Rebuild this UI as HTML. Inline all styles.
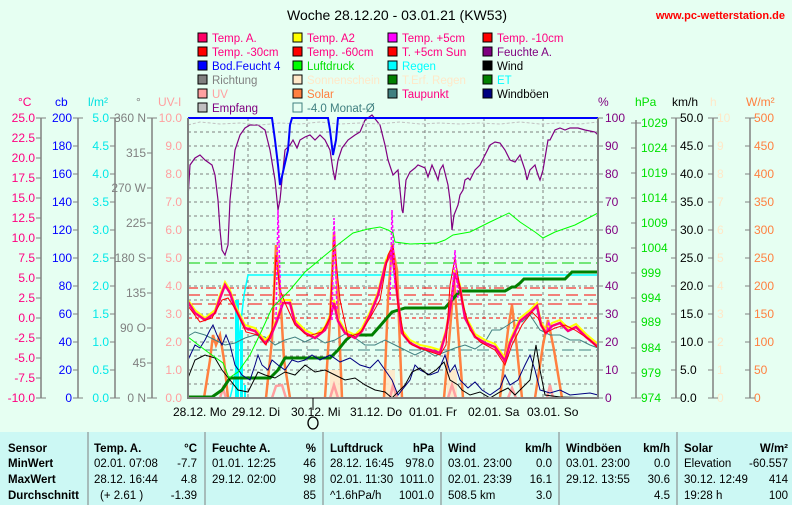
<!DOCTYPE html>
<html><head><meta charset="utf-8"><style>
body{margin:0;background:#e6fff2;}
svg{display:block;font-family:"Liberation Sans",sans-serif;}
</style></head><body>
<svg width="792" height="505" viewBox="0 0 792 505" xmlns="http://www.w3.org/2000/svg">
<rect width="792" height="505" fill="#e6fff2"/>
<text x="397" y="20" font-size="14" text-anchor="middle" fill="#000">Woche 28.12.20 - 03.01.21 (KW53)</text>
<text x="785" y="19" font-size="11" font-weight="bold" text-anchor="end" fill="#ff0000">www.pc-wetterstation.de</text>
<!-- legend -->
<g font-size="11.5">
<g transform="translate(198,33)">
<rect x="0" y="0" width="9" height="9" fill="#ff0066" stroke="#000"/><text x="14" y="9" fill="#ff0080">Temp. A.</text>
<rect x="0" y="14" width="9" height="9" fill="#ff0000" stroke="#000"/><text x="14" y="23" fill="#ff0080">Temp. -30cm</text>
<rect x="0" y="28" width="9" height="9" fill="#0000ff" stroke="#000"/><text x="14" y="37" fill="#0000ff">Bod.Feucht 4</text>
<rect x="0" y="42" width="9" height="9" fill="#808080" stroke="#000"/><text x="14" y="51" fill="#808080">Richtung</text>
<rect x="0" y="56" width="9" height="9" fill="#ffa0a0" stroke="#000"/><text x="14" y="65" fill="#ffa0a0">UV</text>
<rect x="0" y="70" width="9" height="9" fill="#c0c0c0" stroke="#000"/><text x="14" y="79" fill="#800080">Empfang</text>
</g>
<g transform="translate(293,33)">
<rect x="0" y="0" width="9" height="9" fill="#ffff00" stroke="#000"/><text x="14" y="9" fill="#ff0080">Temp. A2</text>
<rect x="0" y="14" width="9" height="9" fill="#ff0000" stroke="#000"/><text x="14" y="23" fill="#ff0080">Temp. -60cm</text>
<rect x="0" y="28" width="9" height="9" fill="#00ff00" stroke="#000"/><text x="14" y="37" fill="#00e000">Luftdruck</text>
<rect x="0" y="42" width="9" height="9" fill="#ffe8c8" stroke="#000"/><text x="14" y="51" fill="#ffe8c8">Sonnenschein</text>
<rect x="0" y="56" width="9" height="9" fill="#ff8040" stroke="#000"/><text x="14" y="65" fill="#ff8040">Solar</text>
<rect x="0" y="70" width="9" height="9" fill="none" stroke="#408080"/><text x="14" y="79" fill="#408080">-4.0 Monat-Ø</text>
</g>
<g transform="translate(388,33)">
<rect x="0" y="0" width="9" height="9" fill="#ff00ff" stroke="#000"/><text x="14" y="9" fill="#ff0080">Temp. +5cm</text>
<rect x="0" y="14" width="9" height="9" fill="#ff0000" stroke="#000"/><text x="14" y="23" fill="#ff0080">T. +5cm Sun</text>
<rect x="0" y="28" width="9" height="9" fill="#00ffff" stroke="#000"/><text x="14" y="37" fill="#00ffff">Regen</text>
<rect x="0" y="42" width="9" height="9" fill="#008000" stroke="#000"/><text x="14" y="51" fill="#ffe8c8">T.Erf. Regen</text>
<rect x="0" y="56" width="9" height="9" fill="#408080" stroke="#000"/><text x="14" y="65" fill="#ff0080">Taupunkt</text>
</g>
<g transform="translate(483,33)">
<rect x="0" y="0" width="9" height="9" fill="#ff0000" stroke="#000"/><text x="14" y="9" fill="#ff0080">Temp. -10cm</text>
<rect x="0" y="14" width="9" height="9" fill="#800080" stroke="#000"/><text x="14" y="23" fill="#800080">Feuchte A.</text>
<rect x="0" y="28" width="9" height="9" fill="#000000" stroke="#000"/><text x="14" y="37" fill="#000">Wind</text>
<rect x="0" y="42" width="9" height="9" fill="#008000" stroke="#000"/><text x="14" y="51" fill="#00ffff">ET</text>
<rect x="0" y="56" width="9" height="9" fill="#000080" stroke="#000"/><text x="14" y="65" fill="#000">Windböen</text>
</g>
</g>
<!-- axis headers -->
<g font-size="12">
<text x="18" y="106" fill="#ff0080">°C</text>
<text x="55" y="106" fill="#0000ff">cb</text>
<text x="88" y="106" fill="#00e0e0">l/m²</text>
<text x="136" y="106" fill="#808080">°</text>
<text x="158" y="106" fill="#ffa0a0">UV-I</text>
<text x="598" y="106" fill="#800080">%</text>
<text x="635" y="106" fill="#00e000">hPa</text>
<text x="672" y="106" fill="#000">km/h</text>
<text x="710" y="106" fill="#ffe8c8">h</text>
<text x="746" y="106" fill="#ff8040">W/m²</text>
</g>
<!-- axes lines -->
<g stroke="#808080" stroke-width="1.5">
<line x1="41" y1="118" x2="41" y2="398"/><line x1="78" y1="118" x2="78" y2="398"/><line x1="115" y1="118" x2="115" y2="398"/><line x1="152" y1="118" x2="152" y2="398"/>
<line x1="636" y1="120" x2="636" y2="398"/><line x1="676" y1="118" x2="676" y2="398"/><line x1="713" y1="118" x2="713" y2="398"/><line x1="750" y1="118" x2="750" y2="398"/>
</g>
<g font-size="12" text-anchor="end">
<g fill="#ff0080">
<text x="35" y="122">25.0</text><text x="35" y="142">22.5</text><text x="35" y="162">20.0</text><text x="35" y="182">17.5</text><text x="35" y="202">15.0</text><text x="35" y="222">12.5</text><text x="35" y="242">10.0</text><text x="35" y="262">7.5</text><text x="35" y="282">5.0</text><text x="35" y="302">2.5</text><text x="35" y="322">0.0</text><text x="35" y="342">-2.5</text><text x="35" y="362">-5.0</text><text x="35" y="382">-7.5</text><text x="35" y="402">-10.0</text>
</g>
<g fill="#0000ff">
<text x="72" y="122">200</text><text x="72" y="150">180</text><text x="72" y="178">160</text><text x="72" y="206">140</text><text x="72" y="234">120</text><text x="72" y="262">100</text><text x="72" y="290">80</text><text x="72" y="318">60</text><text x="72" y="346">40</text><text x="72" y="374">20</text><text x="72" y="402">0</text>
</g>
<g fill="#00e8e8">
<text x="109" y="122">5.0</text><text x="109" y="150">4.5</text><text x="109" y="178">4.0</text><text x="109" y="206">3.5</text><text x="109" y="234">3.0</text><text x="109" y="262">2.5</text><text x="109" y="290">2.0</text><text x="109" y="318">1.5</text><text x="109" y="346">1.0</text><text x="109" y="374">0.5</text><text x="109" y="402">0.0</text>
</g>
<g fill="#808080">
<text x="146" y="122">360 N</text><text x="146" y="157">315</text><text x="146" y="192">270 W</text><text x="146" y="227">225</text><text x="146" y="262">180 S</text><text x="146" y="297">135</text><text x="146" y="332">90  O</text><text x="146" y="367">45</text><text x="146" y="402">0   N</text>
</g>
<g fill="#ffa0a0">
<text x="182" y="122">10.0</text><text x="182" y="150">9.0</text><text x="182" y="178">8.0</text><text x="182" y="206">7.0</text><text x="182" y="234">6.0</text><text x="182" y="262">5.0</text><text x="182" y="290">4.0</text><text x="182" y="318">3.0</text><text x="182" y="346">2.0</text><text x="182" y="374">1.0</text><text x="182" y="402">0.0</text>
</g>
</g>
<g font-size="12">
<g fill="#800080">
<text x="605" y="122">100</text><text x="605" y="150">90</text><text x="605" y="178">80</text><text x="605" y="206">70</text><text x="605" y="234">60</text><text x="605" y="262">50</text><text x="605" y="290">40</text><text x="605" y="318">30</text><text x="605" y="346">20</text><text x="605" y="374">10</text><text x="605" y="402">0</text>
</g>
<g fill="#00e000">
<text x="641" y="127">1029</text><text x="641" y="152">1024</text><text x="641" y="177">1019</text><text x="641" y="202">1014</text><text x="641" y="227">1009</text><text x="641" y="252">1004</text><text x="641" y="277">999</text><text x="641" y="302">994</text><text x="641" y="326">989</text><text x="641" y="352">984</text><text x="641" y="377">979</text><text x="641" y="402">974</text>
</g>
<g fill="#000">
<text x="680" y="122">50.0</text><text x="680" y="150">45.0</text><text x="680" y="178">40.0</text><text x="680" y="206">35.0</text><text x="680" y="234">30.0</text><text x="680" y="262">25.0</text><text x="680" y="290">20.0</text><text x="680" y="318">15.0</text><text x="680" y="346">10.0</text><text x="680" y="374">5.0</text><text x="680" y="402">0.0</text>
</g>
<g fill="#ffe8c8">
<text x="717" y="122">10</text><text x="717" y="150">9</text><text x="717" y="178">8</text><text x="717" y="206">7</text><text x="717" y="234">6</text><text x="717" y="262">5</text><text x="717" y="290">4</text><text x="717" y="318">3</text><text x="717" y="346">2</text><text x="717" y="374">1</text><text x="717" y="402">0</text>
</g>
<g fill="#ff8040">
<text x="754" y="122">500</text><text x="754" y="150">450</text><text x="754" y="178">400</text><text x="754" y="206">350</text><text x="754" y="234">300</text><text x="754" y="262">250</text><text x="754" y="290">200</text><text x="754" y="318">150</text><text x="754" y="346">100</text><text x="754" y="374">50</text><text x="754" y="402">0</text>
</g>
</g>
<!-- ticks -->
<g stroke="#808080">
<path d="M36 118h10M36 138h5M36 158h5M36 178h5M36 198h5M36 218h5M36 238h5M36 258h5M36 278h5M36 298h5M36 318h5M36 338h5M36 358h5M36 378h5M36 398h10"/>
<path d="M73 118h10M73 146h5M73 174h5M73 202h5M73 230h5M73 258h5M73 286h5M73 314h5M73 342h5M73 370h5M73 398h10"/>
<path d="M110 118h10M110 146h5M110 174h5M110 202h5M110 230h5M110 258h5M110 286h5M110 314h5M110 342h5M110 370h5M110 398h10"/>
<path d="M147 118h10M147 153h5M147 188h5M147 223h5M147 258h5M147 293h5M147 328h5M147 363h5M147 398h10"/>
<path d="M598 118h5M598 146h5M598 174h5M598 202h5M598 230h5M598 258h5M598 286h5M598 314h5M598 342h5M598 370h5M598 398h5"/>
<path d="M631 123h10M631 148h5M631 173h5M631 198h5M631 223h5M631 248h5M631 273h5M631 298h5M631 322h5M631 348h5M631 373h5M631 398h10"/>
<path d="M671 118h10M671 146h5M671 174h5M671 202h5M671 230h5M671 258h5M671 286h5M671 314h5M671 342h5M671 370h5M671 398h10"/>
<path d="M708 118h10M708 146h5M708 174h5M708 202h5M708 230h5M708 258h5M708 286h5M708 314h5M708 342h5M708 370h5M708 398h10"/>
<path d="M745 118h10M745 146h5M745 174h5M745 202h5M745 230h5M745 258h5M745 286h5M745 314h5M745 342h5M745 370h5M745 398h10"/>
</g>
<!-- plot area -->
<g stroke="#808080" stroke-dasharray="3,3" stroke-width="1">
<path d="M188 132H598M188 146H598M188 160H598M188 174H598M188 188H598M188 202H598M188 216H598M188 230H598M188 244H598M188 258H598M188 272H598M188 286H598M188 300H598M188 314H598M188 328H598M188 342H598M188 356H598M188 370H598M188 384H598"/>
<path d="M248 118V398M307 118V398M366 118V398M425 118V398M484 118V398M543 118V398"/>
</g>
<!-- horizontal avg lines -->
<path d="M188 263H598" stroke="#00cc00" stroke-dasharray="12,5"/>
<path d="M188 288H598" stroke="#ff0000" stroke-dasharray="10,3,2,3"/>
<path d="M188 295H598" stroke="#ff0000" stroke-dasharray="12,6"/>
<path d="M188 304H598" stroke="#ff0000" stroke-dasharray="14,6"/>
<path d="M188 318H598" stroke="#ff0000" stroke-dasharray="4,3"/>
<path d="M188 350H598" stroke="#408080" stroke-dasharray="12,5"/>
<!-- rain -->
<path d="M188 398H230L232 390L236 370L240 330L244 295L248 275H598" fill="none" stroke="#00ffff" stroke-width="1.5"/>
<g fill="#00ffff"><rect x="235" y="300" width="4" height="98"/><rect x="240" y="330" width="3" height="68"/><rect x="244" y="385" width="2" height="13"/></g>
<!-- sunshine -->
<g fill="#ffe8c8" opacity="0.9"><rect x="330" y="370" width="12" height="28"/><rect x="383" y="370" width="12" height="28"/><rect x="447" y="370" width="10" height="28"/></g>
<!-- solar -->
<g fill="none" stroke="#ff8040" stroke-width="2.5">
<path d="M204 398L210 360L213 335L216 345L220 335L224 360L228 398"/>
<path d="M266 398L272 340L276 245L280 290L284 360L290 398"/>
<path d="M325 398L330 320L334 232L338 300L342 398"/>
<path d="M384 398L388 300L392 245L397 270L402 398"/>
<path d="M444 398L450 330L454 280L458 330L463 398"/>
<path d="M500 398L508 330L512 305L516 340L522 398"/>
<path d="M535 398L543 345L548 320L554 350L562 398"/>
</g>
<!-- UV -->
<g fill="none" stroke="#ffa0a0" stroke-width="2.5">
<path d="M220 398L223 388L226 398M272 398L276 386L282 385L286 398M330 398L334 385L338 398M390 398L393 385L397 398M448 398L452 385L456 398M508 398L512 388L516 398M547 398L550 385L553 398"/>
</g>
<!-- ET -->
<path d="M188 397H212L222 390L230 378H270L278 370L285 358H330L338 350L346 340L352 335H372L380 326L392 312L405 308H445L452 300L460 291H505L512 287H515L520 283L524 279H565L572 272H598" fill="none" stroke="#008000" stroke-width="3"/>
<!-- dewpoint -->
<path d="M188 336L195 332L205 335L215 340L225 345L235 343L245 338L255 335L265 337L275 345L285 340L295 337L305 342L315 337L325 343L335 340L345 334L355 338L365 345L375 345L385 340L395 345L405 350L415 355L425 350L435 356L445 352L455 348L465 345L475 349L485 342L492 330L500 330L508 325L515 320L522 322L530 315L540 330L550 335L560 335L570 340L580 340L590 345L598 348" fill="none" stroke="#408080" stroke-width="1"/>
<!-- windgusts -->
<path d="M188 360L195 345L200 348L205 340L210 330L213 325L217 335L222 345L226 335L230 345L235 365L242 375L250 380L255 365L258 355L262 365L268 370L272 360L278 365L285 370L292 360L298 362L305 360L312 355L320 360L330 355L340 362L350 358L360 365L370 368L378 360L385 370L392 380L398 395L410 380L415 365L420 370L430 375L438 372L445 355L450 372L455 365L460 380L468 388L475 382L482 390L490 395L500 388L505 375L510 385L518 380L525 365L530 355L535 370L540 390L550 393L560 390L570 395L580 394L590 393L598 395" fill="none" stroke="#000080" stroke-width="1"/>
<!-- wind -->
<path d="M188 378L195 360L205 355L215 358L222 370L230 380L238 390L248 392L258 372L265 375L275 378L285 372L295 375L305 365L315 372L325 370L335 375L345 380L355 378L365 385L375 390L385 392L392 398L405 385L412 372L420 368L428 375L436 370L444 362L450 380L458 385L462 390L470 395L480 392L490 398L500 392L508 388L515 395L522 388L530 380L536 345L540 370L545 395L560 397L598 398" fill="none" stroke="#000" stroke-width="1"/>
<!-- temperature family -->
<path d="M188 300L195 310L205 318L215 310L220 295L225 282L230 290L235 305L245 325L255 328L265 340L270 335L277 318L283 300L290 300L295 320L305 330L315 335L325 327L330 315L334 300L338 318L345 330L355 335L362 328L370 312L378 292L386 260L392 248L397 290L402 330L410 340L420 345L430 347L440 350L446 330L451 300L455 270L460 285L465 315L475 334L485 340L495 344L505 358L510 340L520 318L530 310L537 303L541 322L546 330L552 323L560 320L568 328L576 324L586 334L598 344" fill="none" stroke="#ffff00" stroke-width="2"/>
<path d="M188 302L195 313L205 320L215 313L220 298L225 285L230 293L235 308L245 328L255 331L265 343L270 338L277 321L283 303L290 303L295 323L305 333L315 338L325 330L330 318L334 303L338 321L345 333L355 338L362 331L370 315L378 295L386 263L392 251L397 293L402 333L410 343L420 348L430 350L440 353L446 333L451 303L455 273L460 288L465 318L475 337L485 343L495 347L505 361L510 343L520 321L530 313L537 306L541 325L546 333L552 326L560 323L568 331L576 327L586 337L598 347" fill="none" stroke="#ff0080" stroke-width="2.5"/>
<path d="M188 306L200 322L212 318L222 300L228 298L236 310L246 332L258 335L266 345L272 330L276 255L280 290L286 305L295 325L308 336L322 332L330 318L334 240L340 300L348 337L360 333L370 318L380 300L388 255L393 245L398 305L404 336L412 345L425 350L440 355L446 345L450 285L455 258L462 300L470 330L480 342L495 350L505 365L512 345L522 325L532 312L538 318L545 333L555 328L565 325L575 330L590 340L598 348" fill="none" stroke="#ff0000" stroke-width="1"/>
<path d="M276 320L278 210L281 310M332 320L334 218L337 310M390 300L392 210L395 290M452 300L455 250L458 300M547 330L549 322L551 330" fill="none" stroke="#ff00ff" stroke-width="1.5" stroke-dasharray="3,2"/>
<!-- pressure -->
<path d="M188 337L205 350L223 363L229 378L238 372L250 355L262 330L272 308L290 290L305 272L323 257L340 243L353 233L368 229L380 227L388 230L393 233L395 242L410 244L437 243L445 240L453 235L470 232L490 222L509 213L520 222L535 232L543 238L555 232L575 225L598 213" fill="none" stroke="#00ff00" stroke-width="1"/>
<!-- humidity -->
<path d="M188 198L190 165L195 158L200 155L205 160L212 165L215 175L218 200L220 230L222 250L225 255L228 245L230 200L235 150L240 135L245 128L250 125L258 125L265 130L270 150L275 180L277 200L278 210L280 200L283 170L285 150L290 145L293 140L297 148L300 140L305 137L310 135L315 140L320 135L325 140L330 150L333 170L335 180L338 160L342 148L348 140L355 135L360 132L365 120L372 115L380 125L385 145L388 160L393 175L398 170L402 210L403 213L406 180L410 172L415 168L418 165L425 168L428 177L432 165L435 172L438 180L440 170L443 165L448 185L450 200L452 230L454 215L458 205L460 195L463 190L465 180L468 178L470 180L475 170L480 165L485 155L490 145L495 142L500 143L505 150L510 160L515 162L520 155L525 170L527 180L530 170L535 165L538 175L540 180L543 170L548 140L550 140L555 130L560 128L565 130L570 128L578 128L585 130L595 132L598 135" fill="none" stroke="#800080" stroke-width="1.2"/>
<!-- empfang -->
<path d="M188 125L200 122L220 124L240 123L260 125L280 123L300 124L320 122L340 124L360 123L380 124L400 122L420 124L440 123L460 124L480 123L500 124L520 122L540 124L560 123L580 124L598 122" fill="none" stroke="#c0c0c0" stroke-dasharray="3,2"/>
<!-- soil moisture -->
<path d="M188 118H272L275 140L278 165L280 185L283 172L288 150L290 125L292 118H328L330 130L333 155L336 140L338 118H598" fill="none" stroke="#0000ff" stroke-width="2"/>
<!-- plot border -->
<path d="M188 118V398H598V118" fill="none" stroke="#808080" stroke-width="2"/>
<!-- x labels -->
<g font-size="12" fill="#000">
<text x="173" y="416">28.12.  Mo</text><text x="232" y="416">29.12.  Di</text><text x="291" y="416">30.12.  Mi</text><text x="350" y="416">31.12.  Do</text><text x="409" y="416">01.01.  Fr</text><text x="468" y="416">02.01.  Sa</text><text x="527" y="416">03.01.  So</text>
</g>
<line x1="313" y1="398" x2="313" y2="410" stroke="#000"/>
<ellipse cx="313" cy="423" rx="5" ry="6" fill="none" stroke="#000" stroke-width="1.3"/>
<!-- table -->
<rect x="0" y="432" width="792" height="73" fill="#ccf8f4"/>
<g stroke="#808080"><path d="M88 432V505M205 432V505M323 432V505M441 432V505M559 432V505M677 432V505"/></g>
<g font-size="11.5" fill="#000">
<g font-weight="bold"><text x="8" y="452">Sensor</text><text x="8" y="467">MinWert</text><text x="8" y="483">MaxWert</text><text x="8" y="499">Durchschnitt</text>
<text x="94" y="452">Temp. A.</text><text x="197" y="452" text-anchor="end">°C</text>
<text x="212" y="452">Feuchte A.</text><text x="316" y="452" text-anchor="end">%</text>
<text x="330" y="452">Luftdruck</text><text x="434" y="452" text-anchor="end">hPa</text>
<text x="448" y="452">Wind</text><text x="552" y="452" text-anchor="end">km/h</text>
<text x="566" y="452">Windböen</text><text x="670" y="452" text-anchor="end">km/h</text>
<text x="684" y="452">Solar</text><text x="788" y="452" text-anchor="end">W/m²</text></g>
<text x="94" y="467">02.01.  07:08</text><text x="197" y="467" text-anchor="end">-7.7</text>
<text x="94" y="483">28.12.  16:44</text><text x="197" y="483" text-anchor="end">4.8</text>
<text x="100" y="499">(+ 2.61 )</text><text x="197" y="499" text-anchor="end">-1.39</text>
<text x="212" y="467">01.01.  12:25</text><text x="316" y="467" text-anchor="end">46</text>
<text x="212" y="483">29.12.  02:00</text><text x="316" y="483" text-anchor="end">98</text>
<text x="316" y="499" text-anchor="end">85</text>
<text x="330" y="467">28.12.  16:45</text><text x="434" y="467" text-anchor="end">978.0</text>
<text x="330" y="483">02.01.  11:30</text><text x="434" y="483" text-anchor="end">1011.0</text>
<text x="330" y="499">^1.6hPa/h</text><text x="434" y="499" text-anchor="end">1001.0</text>
<text x="448" y="467">03.01.  23:00</text><text x="552" y="467" text-anchor="end">0.0</text>
<text x="448" y="483">02.01.  23:39</text><text x="552" y="483" text-anchor="end">16.1</text>
<text x="448" y="499">508.5 km</text><text x="552" y="499" text-anchor="end">3.0</text>
<text x="566" y="467">03.01.  23:00</text><text x="670" y="467" text-anchor="end">0.0</text>
<text x="566" y="483">29.12.  13:55</text><text x="670" y="483" text-anchor="end">30.6</text>
<text x="670" y="499" text-anchor="end">4.5</text>
<text x="684" y="467">Elevation</text><text x="788" y="467" text-anchor="end">-60.557</text>
<text x="684" y="483">30.12.  12:49</text><text x="788" y="483" text-anchor="end">414</text>
<text x="684" y="499">19:28 h</text><text x="788" y="499" text-anchor="end">100</text>
</g>
</svg>
</body></html>
